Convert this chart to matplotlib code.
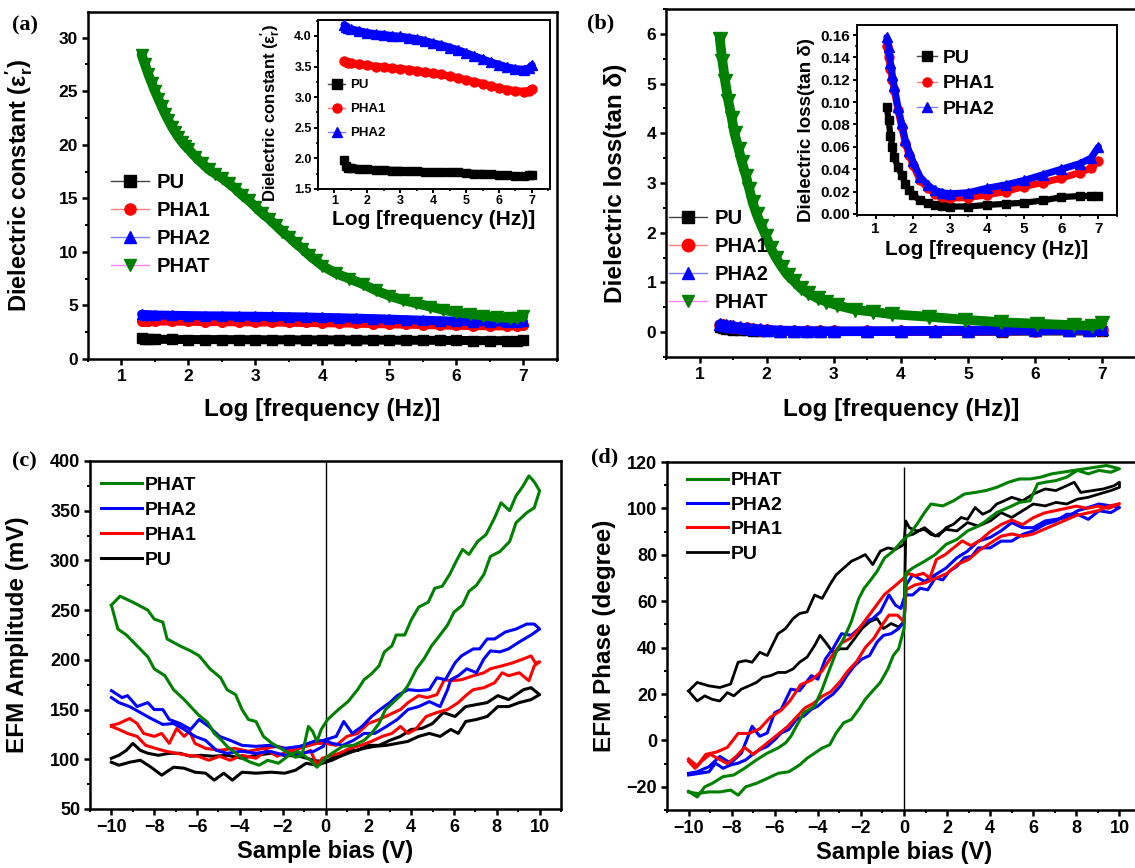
import numpy as np
import matplotlib
matplotlib.use("Agg")
import matplotlib.pyplot as plt
from matplotlib.lines import Line2D
from matplotlib.ticker import MultipleLocator, FormatStrFormatter

plt.rcParams['font.family'] = ['Liberation Sans', 'DejaVu Sans']
plt.rcParams['font.weight'] = 'bold'
plt.rcParams['axes.labelweight'] = 'bold'
plt.rcParams['mathtext.default'] = 'regular'

# ---- (a) dielectric constant ----
logf_a = [1.3, 1.35, 1.4, 1.5, 1.75, 2.0, 2.25, 2.5, 2.75, 3.0, 3.25, 3.5, 3.75, 4.0,
          4.25, 4.5, 4.75, 5.0, 5.25, 5.5, 5.75, 6.0, 6.25, 6.5, 6.75, 6.9, 7.0]
eps_pu = [1.97, 1.87, 1.85, 1.84, 1.83, 1.82, 1.81, 1.81, 1.80, 1.80, 1.79, 1.79, 1.78, 1.78,
          1.78, 1.77, 1.77, 1.76, 1.75, 1.75, 1.74, 1.73, 1.72, 1.71, 1.71, 1.72, 1.73]
eps_pha1 = [3.59, 3.57, 3.56, 3.55, 3.54, 3.52, 3.50, 3.49, 3.47, 3.46, 3.45, 3.43, 3.41, 3.39,
            3.37, 3.34, 3.31, 3.28, 3.25, 3.22, 3.18, 3.15, 3.12, 3.10, 3.09, 3.10, 3.13]
eps_pha2 = [4.18, 4.15, 4.13, 4.11, 4.08, 4.05, 4.03, 4.02, 4.00, 3.99, 3.97, 3.95, 3.92, 3.88,
            3.85, 3.81, 3.77, 3.72, 3.67, 3.62, 3.57, 3.53, 3.49, 3.46, 3.45, 3.47, 3.52]
logf_phat_a = [1.3, 1.35, 1.4, 1.45, 1.5, 1.55, 1.6, 1.65, 1.7, 1.75, 1.8, 1.85, 1.9, 1.95, 2.0,
               2.1, 2.2, 2.3, 2.4, 2.5, 2.6, 2.7, 2.8, 2.9, 3.0, 3.1, 3.2, 3.3, 3.4, 3.5, 3.6,
               3.7, 3.8, 3.9, 4.0, 4.2, 4.4, 4.6, 4.8, 5.0, 5.2, 5.4, 5.6, 5.8, 6.0, 6.2, 6.4,
               6.6, 6.8, 6.9, 7.0]
eps_phat = [28.4, 27.5, 26.6, 25.8, 25.0, 24.3, 23.6, 22.9, 22.3, 21.7, 21.2, 20.7, 20.3, 19.9,
            19.6, 18.9, 18.3, 17.7, 17.3, 16.9, 16.4, 15.9, 15.3, 14.8, 14.2, 13.6, 13.1, 12.5,
            11.9, 11.4, 10.8, 10.3, 9.7, 9.2, 8.7, 8.0, 7.5, 7.0, 6.4, 5.9, 5.5, 5.2, 4.9, 4.6,
            4.35, 4.2, 4.05, 3.9, 3.8, 3.85, 4.0]

# ---- (b) dielectric loss ----
logf_b = [1.3, 1.35, 1.4, 1.45, 1.5, 1.6, 1.7, 1.8, 1.9, 2.0, 2.2, 2.4, 2.6, 2.8, 3.0, 3.5,
          4.0, 4.5, 5.0, 5.5, 6.0, 6.5, 6.8, 7.0]
tan_pu = [0.096, 0.084, 0.070, 0.060, 0.051, 0.042, 0.035, 0.027, 0.021, 0.017, 0.012, 0.010,
          0.008, 0.007, 0.0066, 0.0066, 0.008, 0.009, 0.010, 0.012, 0.015, 0.016, 0.016, 0.016]
tan_pha1 = [0.150, 0.140, 0.130, 0.120, 0.111, 0.093, 0.078, 0.063, 0.053, 0.044, 0.030, 0.023,
            0.018, 0.0155, 0.014, 0.0146, 0.017, 0.020, 0.0245, 0.028, 0.032, 0.037, 0.041, 0.047]
tan_pha2 = [0.158, 0.149, 0.135, 0.124, 0.114, 0.096, 0.081, 0.066, 0.056, 0.047, 0.033, 0.026,
            0.021, 0.019, 0.018, 0.019, 0.023, 0.026, 0.030, 0.035, 0.040, 0.045, 0.050, 0.060]
logf_phat_b = [1.30, 1.34, 1.38, 1.43, 1.48, 1.52, 1.58, 1.63, 1.69, 1.74, 1.79, 1.85, 1.92,
               1.99, 2.06, 2.14, 2.22, 2.31, 2.41, 2.51, 2.62, 2.76, 2.89, 3.05, 3.32, 3.59,
               3.86, 4.41, 4.95, 5.49, 6.03, 6.57, 6.84, 7.0]
tan_phat = [5.90, 5.46, 5.05, 4.64, 4.30, 4.00, 3.69, 3.42, 3.15, 2.88, 2.61, 2.37, 2.14, 1.93,
            1.69, 1.49, 1.32, 1.15, 1.02, 0.88, 0.78, 0.68, 0.61, 0.54, 0.45, 0.41, 0.36, 0.31,
            0.25, 0.20, 0.17, 0.14, 0.13, 0.18]

# ---- (c) EFM amplitude loops (V, mV) ----
bias_c_phat = [-10, -9.6, -9.0, -8.3, -8.0, -7.6, -7.4, -6.8, -6.3, -5.9, -5.4, -4.9, -4.6, -4.2,
               -3.9, -3.6, -3.25, -2.9, -2.5, -2.1, -1.7, -1.4, -1.1, -0.8, -0.6, -0.4, -0.2, 0.1,
               0.6, 1.05, 1.5, 1.8, 2.15, 2.5, 2.75, 3.1, 3.3, 3.7, 4.0, 4.35, 4.8, 5.1, 5.45, 5.8,
               6.1, 6.4, 6.7, 7.1, 7.5, 7.9, 8.2, 8.6, 8.9, 9.2, 9.5, 9.75, 10,
               9.75, 9.4, 9.15, 8.9, 8.6, 8.15, 7.7, 7.4, 7.05, 6.7, 6.4, 6.0, 5.7, 5.35, 4.95,
               4.6, 4.25, 3.85, 3.5, 3.15, 2.8, 2.5, 2.15, 1.8, 1.3, 0.8, 0.3, 0.0,
               -0.4, -0.7, -1.3, -1.7, -2.2, -2.7, -3.1, -3.5, -3.9, -4.3, -4.6, -4.85, -5.2,
               -5.5, -5.95, -6.3, -6.6, -7.1, -7.5, -8.0, -8.3, -8.8, -9.3, -9.7, -10]
amp_phat = [255, 264, 258, 250, 241, 238, 221, 214, 209, 204, 191, 182, 170, 165,
            150, 140, 138, 123, 116, 111, 106, 102, 104, 133, 128, 118, 130, 140,
            150, 158, 170, 180, 186, 194, 208, 214, 225, 225, 240, 253, 258, 272, 274, 286,
            299, 311, 306, 319, 326, 343, 358, 350, 365, 374, 385, 379, 370,
            353, 348, 343, 338, 319, 309, 304, 286, 275, 269, 255, 248, 235, 225, 214,
            201, 191, 174, 164, 157, 150, 136, 126, 119, 114, 113, 106, 101,
            92, 99, 108, 104, 96, 99, 94, 97, 101, 108, 113, 119, 126,
            137, 145, 153, 160, 170, 184, 191, 203, 214, 225, 231, 255]
bias_c_pha2 = [-10, -9.5, -9.25, -8.8, -8.3, -8.0, -7.6, -7.3, -6.8, -6.3, -5.9, -5.45, -4.95,
               -4.45, -3.9, -3.25, -2.6, -1.9, -1.2, -0.55, -0.1,
               0.5, 0.85, 1.25, 1.7, 2.15, 2.55, 3.0, 3.35, 3.85, 4.35, 4.85, 5.2, 5.6, 6.05,
               6.35, 6.9, 7.2, 7.55, 7.9, 8.4, 8.9, 9.4, 9.75, 10,
               9.6, 9.05, 8.55, 8.15, 7.7, 7.4, 7.05, 6.6, 6.2, 5.85, 5.7, 5.35, 4.85, 4.35,
               3.85, 3.35, 2.85, 2.3, 1.8, 1.3, 0.8, 0.3, 0.0,
               -0.1, -0.55, -1.2, -1.9, -2.6, -3.25, -3.9, -4.6, -5.1, -5.6, -6.1, -6.6, -7.1,
               -7.6, -8.15, -8.65, -9.15, -9.65, -10]
amp_pha2 = [169, 162, 164, 153, 157, 150, 150, 140, 136, 130, 140, 133, 123,
            119, 114, 113, 114, 111, 113, 118, 119,
            123, 138, 126, 133, 143, 150, 157, 164, 170, 169, 170, 182, 180, 197,
            204, 211, 211, 221, 221, 228, 231, 236, 236, 231,
            225, 218, 211, 208, 209, 201, 187, 191, 184, 180, 170, 153, 158, 153,
            150, 140, 133, 126, 126, 119, 114, 116, 119,
            113, 108, 106, 104, 108, 106, 108, 106, 109, 119, 123, 130, 136,
            135, 141, 147, 153, 157, 162]
bias_c_pha1 = [-10, -9.65, -9.15, -8.8, -8.5, -8.0, -7.65, -7.3, -6.95, -6.6, -6.35, -6.1, -5.6,
               -4.95, -4.25, -3.6, -2.9, -2.25, -1.55, -0.9, -0.4,
               0.0, 0.5, 1.0, 1.5, 2.0, 2.5, 3.0, 3.5, 3.85, 4.35, 4.75, 5.2, 5.55, 5.85, 6.35,
               6.9, 7.4, 7.7, 8.25, 8.75, 9.25, 9.6, 9.8, 10,
               9.75, 9.5, 9.05, 8.55, 8.25, 7.9, 7.4, 6.9, 6.55, 6.2, 5.7, 5.2, 4.7, 4.2, 3.85,
               3.5, 3.1, 2.65, 2.15, 1.65, 1.15, 0.65, 0.15,
               -0.15, -0.4, -0.7, -1.2, -1.7, -2.25, -2.75, -3.25, -3.9, -4.45, -4.95, -5.45,
               -5.95, -6.45, -6.95, -7.45, -7.95, -8.4, -8.8, -9.25, -9.65, -10]
amp_pha1 = [134, 136, 141, 136, 126, 123, 126, 116, 131, 123, 128, 116, 111,
            109, 111, 108, 111, 113, 109, 113, 116,
            116, 114, 123, 126, 136, 140, 145, 150, 157, 164, 162, 165, 180, 179, 180,
            184, 187, 191, 194, 197, 201, 204, 197, 198,
            194, 179, 187, 184, 187, 177, 172, 170, 164, 157, 150, 147, 143, 130, 126,
            133, 126, 123, 118, 114, 111, 106, 103,
            101, 94, 109, 104, 109, 103, 109, 101, 104, 99, 103, 99,
            103, 104, 106, 108, 111, 114, 123, 126, 130, 133]
bias_c_pu = [-10, -9.65, -9.3, -9.0, -8.65, -8.3, -7.8, -7.3, -6.8, -6.3, -5.8, -5.25, -4.6,
             -3.9, -3.25, -2.55, -1.9, -1.2, -0.55, 0.0,
             0.5, 1.0, 1.5, 2.0, 2.5, 3.0, 3.5, 4.0, 4.5, 5.0, 5.5, 6.05, 6.55, 7.05, 7.55,
             8.05, 8.55, 8.9, 9.25, 9.6, 10,
             9.6, 9.05, 8.55, 8.05, 7.55, 7.05, 6.55, 6.2, 5.85, 5.35, 4.85, 4.35, 3.85, 3.35,
             2.85, 2.3, 1.8, 1.3, 0.8, 0.3, 0.0,
             -0.4, -0.9, -1.4, -1.9, -2.55, -3.25, -3.9, -4.35, -4.75, -5.2, -5.6, -6.1, -6.6,
             -7.1, -7.65, -8.15, -8.65, -9.15, -9.65, -10]
amp_pu = [101, 104, 109, 116, 109, 106, 104, 106, 106, 103, 104, 103, 104,
          101, 104, 106, 104, 103, 99, 97,
          104, 108, 109, 114, 114, 119, 123, 130, 131, 136, 147, 143, 153, 155, 157,
          164, 160, 165, 170, 172, 165,
          160, 157, 153, 153, 143, 140, 138, 126, 130, 123, 126, 123, 118, 116,
          114, 113, 111, 108, 104, 99, 97,
          94, 96, 89, 86, 87, 86, 87, 79, 86, 79, 86, 87, 91,
          92, 84, 92, 99, 97, 94, 97]

# ---- (d) EFM phase loops (V, degree) ----
bias_d_phat = [-10, -9.6, -9.25, -8.9, -8.4, -7.9, -7.4, -6.85, -6.35, -5.85, -5.5, -5.25, -5.0,
               -4.65, -4.15, -3.8, -3.45, -3.15, -2.8, -2.45, -2.1, -1.85, -1.6, -1.25, -0.9,
               -0.5, -0.1, 0.25, 0.6, 0.95, 1.25, 1.8, 2.3, 2.8, 3.3, 3.8, 4.3, 4.85, 5.35,
               5.85, 6.35, 6.85, 7.35, 7.9, 8.4, 8.9, 9.4, 10,
               9.6, 9.05, 8.55, 8.05, 7.55, 7.05, 6.55, 6.2, 5.85, 5.35, 4.85, 4.3, 3.8, 3.45,
               2.95, 2.45, 1.95, 1.45, 0.95, 0.4, 0.08, 0.0,
               -0.25, -0.5, -0.75, -1.1, -1.45, -1.8, -2.1, -2.45, -2.8, -3.15, -3.45, -3.8,
               -4.15, -4.5, -4.85, -5.35, -5.85, -6.35, -6.85, -7.35, -7.7, -8.05, -8.55,
               -9.05, -9.6, -10]
ph_phat = [-22, -24.4, -20, -18.5, -15.6, -14.9, -12, -8.4, -5.5, -3.3, -1.1, 1.8, 6.1,
           11.9, 14.8, 22.1, 30.8, 38, 43.8, 51.1, 61.2, 65.6, 68.5, 72.9, 78.7,
           81.6, 85.9, 88.8, 93.2, 98.2, 101.9, 101.1, 103.3, 106.2, 106.9, 107.7, 109.1, 111.3,
           112.7, 112.7, 113.5, 114.9, 115.6, 116.4, 117.1, 117.8, 118.5, 117.1,
           115.6, 116.4, 114.9, 116.4, 113.5, 112, 111.3, 110.6, 103.3, 102.6, 100.4, 98.2,
           94.6, 92.4, 90.3, 86.6, 84.5, 80.1, 77.2, 74.3, 72.1, 48.2,
           39.5, 36.6, 30.8, 25, 21.4, 17.7, 13.4, 9, 7.6, 3.2, -1.9, -3.3,
           -5.5, -7.7, -10.6, -13.5, -14.2, -16.4, -18.5, -20, -23.6, -21.4, -22.2,
           -22.2, -22.9, -22.2]
bias_d_pha2 = [-10, -9.6, -9.05, -8.55, -8.05, -7.55, -7.05, -6.7, -6.35, -6.0, -5.7, -5.25,
               -4.85, -4.3, -4.0, -3.65, -3.3, -2.9, -2.45, -2.1, -1.8, -1.45, -1.1, -0.7,
               -0.4, -0.15, 0.0, 0.1, 0.4, 0.75, 1.1, 1.45, 1.8, 2.1, 2.45, 2.8, 3.15, 3.45,
               4.0, 4.5, 5.0, 5.5, 6.0, 6.55, 7.05, 7.55, 8.05, 8.55, 9.05, 9.6, 10,
               9.6, 9.05, 8.55, 8.05, 7.55, 7.05, 6.55, 6.0, 5.5, 5.0, 4.5, 4.0, 3.45, 2.95,
               2.45, 1.95, 1.45, 0.95, 0.4, 0.1, 0.0,
               -0.25, -0.6, -0.95, -1.25, -1.6, -1.95, -2.3, -2.65, -2.95, -3.3, -3.65, -4.0,
               -4.3, -4.65, -5.0, -5.35, -5.7, -6.0, -6.35, -6.7, -7.05, -7.35, -7.7, -8.05,
               -8.4, -8.75, -9.05, -9.5, -10]
ph_pha2 = [-14.2, -13.5, -11.3, -6.9, -9.8, -5.5, 6.1, 1.8, 3.2, 12, 13.4, 22.1,
           21.4, 27.9, 26.4, 35.1, 39.5, 46, 45.3, 48.2, 51.1, 52.5, 55.4, 62.7,
           58.3, 56.9, 61.2, 62.7, 62.7, 65.6, 64.9, 70, 69.2, 72.9, 75, 78.7, 79.4, 83,
           83, 85.9, 85.9, 88.8, 90.3, 93.2, 94.6, 97.5, 97.5, 95.3, 99, 98.2, 100.4,
           101.1, 101.9, 100.4, 99, 96.1, 95.3, 94.6, 91.7, 91.7, 93.9, 90.3, 87.5, 85.9, 81.6,
           78.7, 74.3, 71.4, 68.5, 71.4, 67.1, 51.1,
           48.2, 46, 45.3, 42.4, 36.6, 35.1, 32.2, 27.9, 23.5, 19.9, 17.7, 14.8,
           13.4, 10.5, 9, 4.7, 3.2, 0.3, -2.6, -4, -6.2, -8.4, -9.8, -10.6,
           -12, -9.8, -13.5, -14.2, -14.9]
bias_d_pha1 = [-10, -9.6, -9.2, -8.7, -8.2, -7.7, -7.2, -6.7, -6.2, -5.7, -5.3, -4.8, -4.3,
               -3.8, -3.3, -2.9, -2.5, -2.1, -1.7, -1.3, -0.9, -0.5, 0.0, 0.2, 0.5, 0.9, 1.2,
               1.5, 1.9, 2.3, 2.7, 3.1, 3.5, 4.0, 4.5, 5.0, 5.5, 6.0, 6.5, 7.0, 7.5, 8.0, 8.5,
               9.0, 9.5, 10,
               9.5, 9.0, 8.5, 8.0, 7.5, 7.0, 6.5, 6.0, 5.5, 5.0, 4.5, 4.0, 3.5, 3.0, 2.5, 2.0,
               1.5, 1.0, 0.5, 0.1, 0.0,
               -0.3, -0.7, -1.0, -1.4, -1.8, -2.2, -2.6, -3.0, -3.4, -3.8, -4.2, -4.6, -5.0,
               -5.4, -5.8, -6.2, -6.6, -7.0, -7.4, -7.8, -8.2, -8.6, -9.0, -9.4, -9.7, -10]
ph_pha1 = [-8, -11, -6, -5, -3, 3, 3, 5, 10, 13, 17, 24, 26,
           30, 37, 42, 44, 48, 53, 58, 63, 66, 70, 72, 71, 72, 70,
           78, 80, 83, 86, 84, 86, 90, 93, 95, 93, 96, 98, 99, 100, 101, 100,
           101, 100, 102,
           101, 99, 98, 97, 95, 93, 91, 89, 88, 89, 88, 85, 82, 78, 76, 72,
           70, 68, 67, 65, 51,
           54, 54, 50, 44, 40, 34, 30, 25, 21, 19, 16, 14, 10,
           6, 3, 0, -3, -6, -3, -7, -10, -8, -6, -9, -12, -9]
bias_d_pu = [-10, -9.6, -9.05, -8.55, -8.05, -7.7, -7.35, -7.05, -6.7, -6.35, -5.85, -5.5,
             -5.15, -4.85, -4.5, -4.15, -3.8, -3.45, -3.15, -2.8, -2.45, -2.1, -1.8, -1.45,
             -1.1, -0.75, -0.4, 0.0, 0.08, 0.25, 0.6, 0.95, 1.25, 1.6, 1.95, 2.3, 2.65, 2.95,
             3.3, 3.65, 4.0, 4.3, 4.65, 5.0, 5.5, 6.0, 6.55, 7.05, 7.55, 7.9, 8.2, 8.75,
             9.25, 9.75, 10,
             10, 9.6, 9.05, 8.55, 8.05, 7.55, 7.05, 6.55, 6.0, 5.5, 5.0, 4.5, 4.0, 3.45,
             2.95, 2.45, 1.95, 1.45, 0.95, 0.4, 0.08, 0.0,
             -0.25, -0.6, -0.95, -1.25, -1.6, -1.95, -2.3, -2.65, -2.95, -3.3, -3.65, -3.9,
             -4.15, -4.5, -4.85, -5.15, -5.5, -5.85, -6.2, -6.55, -6.85, -7.2, -7.55, -7.9,
             -8.2, -8.55, -8.9, -9.25, -9.6, -10]
ph_pu = [21.3, 25, 23.5, 22.8, 24.3, 33.7, 34.4, 33.7, 38, 36.6, 46, 48.2,
         52.5, 54.7, 55.4, 62.7, 61.2, 67, 71.4, 74.3, 77.2, 78.7, 80.1, 75.8,
         81.6, 83, 82.3, 84.5, 94.6, 91.7, 90.3, 91, 88.8, 88.1, 91.7, 93.2, 96.1, 95.3,
         100.4, 97.5, 99, 101.9, 103.3, 104.8, 103.3, 106.2, 108.4, 107.7, 109.8, 111.3,
         106.9, 107.7, 108.4, 109.8, 111.3,
         109.1, 107.7, 106.2, 104.8, 104, 101.9, 102.6, 101.1, 101.9, 99, 96.1, 98.2, 94.6,
         92.4, 93.9, 90.3, 91, 88.1, 91.7, 88.8, 88.1, 51.1,
         48.9, 50.4, 48.2, 52.5, 51.1, 48.2, 43.8, 39.5, 39.5, 38, 42.4, 45.3,
         40.9, 35.9, 33.7, 30.8, 29.3, 29.3, 27.9, 27.2, 25, 23.5, 22.1, 19.2,
         20.6, 17, 17.7, 19.2, 17, 21.3]

GREEN = '#008000'

fig = plt.figure(figsize=(11.35, 8.68), dpi=100)
fig.patch.set_facecolor('white')


def style(ax, xmaj, xmin, ymaj, ymin, tsize, lw=1.8, tl=4, pad=3):
    for s in ax.spines.values():
        s.set_linewidth(lw)
    ax.xaxis.set_major_locator(MultipleLocator(xmaj))
    ax.xaxis.set_minor_locator(MultipleLocator(xmin))
    ax.yaxis.set_major_locator(MultipleLocator(ymaj))
    ax.yaxis.set_minor_locator(MultipleLocator(ymin))
    ax.tick_params(which='major', direction='out', length=tl, width=lw,
                   labelsize=tsize, pad=pad, top=False, right=False)
    ax.tick_params(which='minor', direction='out', length=tl * 0.6, width=lw * 0.8,
                   top=False, right=False)


def band(ax, x, y, color, marker, ms, bw, z):
    ax.plot(x, y, color=color, lw=bw, solid_joinstyle='round',
            solid_capstyle='round', zorder=z)
    ax.plot(x, y, ls='none', marker=marker, ms=ms, color=color, zorder=z + 0.1)


def handles(specs, ms):
    return [Line2D([], [], color=lc, lw=1.0, marker=m, ms=ms, mfc=mc, mec=mc)
            for lc, m, mc in specs]


def legend(ax, h, labels, fx, fy, size, hl, tp, ls):
    ax.legend(h, labels, loc='upper left', bbox_to_anchor=(fx, fy),
              bbox_transform=fig.transFigure, frameon=False, borderpad=0,
              borderaxespad=0, handlelength=hl, handletextpad=tp, labelspacing=ls,
              prop={'size': size, 'weight': 'bold'})


spec4 = [('#444444', 's', 'black'), ('#ff8080', 'o', 'red'),
         ('#8080ff', '^', 'blue'), ('#ff80ff', 'v', GREEN)]

# ---------------- (a) ----------------
axa = fig.add_axes([0.0775, 0.5864, 0.4132, 0.3998])
band(axa, logf_a, eps_pu, 'black', 's', 6.5, 6.5, 2)
band(axa, logf_a, eps_pha1, 'red', 'o', 7, 6.5, 3)
band(axa, logf_a, eps_pha2, 'blue', '^', 7.5, 6.5, 4)
band(axa, logf_phat_a, eps_phat, GREEN, 'v', 9, 7, 5)
axa.set_xlim(0.5, 7.5)
axa.set_ylim(0, 32.4)
style(axa, 1, 0.5, 5, 2.5, 12.5)
axa.set_xlabel('Log [frequency (Hz)]', fontsize=17.5)
axa.set_ylabel("Dielectric constant (ε$^{\\prime}_{r}$)", fontsize=17)
axa.xaxis.set_label_coords(0.5, -0.112)
axa.yaxis.set_label_coords(-0.113, 0.5)
legend(axa, handles(spec4, 8), ['PU', 'PHA1', 'PHA2', 'PHAT'],
       0.0978, 0.8007, 14.5, 1.9, 0.35, 0.45)

# inset (a)
ia = fig.add_axes([0.2802, 0.7823, 0.2044, 0.1947])
band(ia, logf_a, eps_pu, 'black', 's', 6, 5.5, 2)
band(ia, logf_a, eps_pha1, 'red', 'o', 6.5, 5.5, 3)
band(ia, logf_a, eps_pha2, 'blue', '^', 7, 5.5, 4)
ia.set_xlim(0.5, 7.55)
ia.set_ylim(1.5, 4.26)
style(ia, 1, 0.5, 0.5, 0.25, 9, lw=1.4, tl=3, pad=1.5)
ia.set_xlabel('Log [frequency (Hz)]', fontsize=15)
ia.set_ylabel("Dielectric constant (ε$^{\\prime}_{r}$)", fontsize=12)
ia.xaxis.set_label_coords(0.5, -0.125)
ia.yaxis.set_label_coords(-0.151, 0.45)
legend(ia, handles(spec4[:3], 6.5), ['PU', 'PHA1', 'PHA2'],
       0.289, 0.909, 9.5, 1.3, 0.4, 0.9)

# ---------------- (b) ----------------
axb = fig.add_axes([0.5868, 0.5887, 0.4141, 0.4009])
band(axb, logf_b, tan_pu, 'black', 's', 7, 6, 2)
band(axb, logf_b, tan_pha1, 'red', 'o', 8, 6.5, 3)
band(axb, logf_b, tan_pha2, 'blue', '^', 9, 7, 4)
band(axb, logf_phat_b, tan_phat, GREEN, 'v', 10, 7, 5)
axb.set_xlim(0.5, 7.5)
axb.set_ylim(-0.5, 6.5)
style(axb, 1, 0.5, 1, 0.5, 12.5)
axb.set_xlabel('Log [frequency (Hz)]', fontsize=17.5)
axb.set_ylabel('Dielectric loss(tan δ)', fontsize=17.5)
axb.xaxis.set_label_coords(0.5, -0.118)
axb.yaxis.set_label_coords(-0.083, 0.5)
legend(axb, handles(spec4, 9), ['PU', 'PHA1', 'PHA2', 'PHAT'],
       0.5894, 0.7592, 14.5, 1.9, 0.35, 0.45)

# inset (b)
ib = fig.add_axes([0.7551, 0.7523, 0.2291, 0.2189])
band(ib, logf_b, tan_pu, 'black', 's', 6, 4.5, 2)
band(ib, logf_b, tan_pha1, 'red', 'o', 6.5, 5, 3)
band(ib, logf_b, tan_pha2, 'blue', '^', 7, 5, 4)
ib.set_xlim(0.5, 7.5)
ib.set_ylim(-0.001, 0.169)
style(ib, 1, 0.5, 0.02, 0.01, 11, lw=1.4, tl=3, pad=2)
ib.yaxis.set_major_formatter(FormatStrFormatter('%.2f'))
ib.set_xlabel('Log [frequency (Hz)]', fontsize=15)
ib.set_ylabel('Dielectric loss(tan δ)', fontsize=13.5)
ib.xaxis.set_label_coords(0.5, -0.13)
ib.yaxis.set_label_coords(-0.162, 0.447)
legend(ib, handles(spec4[:3], 6.5), ['PU', 'PHA1', 'PHA2'],
       0.808, 0.943, 14, 1.0, 0.3, 0.4)

# ---------------- (c) ----------------
axc = fig.add_axes([0.0793, 0.068, 0.415, 0.4009])
axc.axvline(0, color='black', lw=1.0, zorder=1)
axc.plot(bias_c_pu, amp_pu, color='black', lw=2.2, label='PU', zorder=2)
axc.plot(bias_c_pha1, amp_pha1, color='red', lw=2.2, label='PHA1', zorder=3)
axc.plot(bias_c_pha2, amp_pha2, color='blue', lw=2.2, label='PHA2', zorder=4)
axc.plot(bias_c_phat, amp_phat, color=GREEN, lw=2.2, label='PHAT', zorder=5)
axc.set_xlim(-11, 11)
axc.set_ylim(50, 400)
style(axc, 2, 1, 50, 25, 13)
axc.set_xlabel('Sample bias (V)', fontsize=17)
axc.set_ylabel('EFM Amplitude (mV)', fontsize=17.5)
axc.xaxis.set_label_coords(0.5, -0.089)
axc.yaxis.set_label_coords(-0.13, 0.5)
hc, lc = axc.get_legend_handles_labels()
legend(axc, hc[::-1], lc[::-1], 0.089, 0.4515, 14, 2.1, 0.15, 0.38)

# ---------------- (d) ----------------
axd = fig.add_axes([0.5877, 0.0668, 0.4176, 0.4009])
axd.vlines(0, -30, 118, color='black', lw=1.0, zorder=1)
axd.plot(bias_d_pu, ph_pu, color='black', lw=2.0, label='PU', zorder=2)
axd.plot(bias_d_pha1, ph_pha1, color='red', lw=2.2, label='PHA1', zorder=4)
axd.plot(bias_d_pha2, ph_pha2, color='blue', lw=2.2, label='PHA2', zorder=3)
axd.plot(bias_d_phat, ph_phat, color=GREEN, lw=2.2, label='PHAT', zorder=5)
axd.set_xlim(-11, 11)
axd.set_ylim(-30, 120)
style(axd, 2, 1, 20, 10, 13)
axd.set_xlabel('Sample bias (V)', fontsize=17)
axd.set_ylabel('EFM Phase (degree)', fontsize=17.5)
axd.xaxis.set_label_coords(0.5, -0.089)
axd.yaxis.set_label_coords(-0.108, 0.5)
hd, ld = axd.get_legend_handles_labels()
legend(axd, [hd[3], hd[2], hd[1], hd[0]], ['PHAT', 'PHA2', 'PHA1', 'PU'],
       0.6053, 0.4565, 14, 2.1, 0.15, 0.35)

# panel letters
for lab, px, py in [('(a)', 25, 25), ('(b)', 601, 23), ('(c)', 24, 461), ('(d)', 605, 457)]:
    fig.text(px / 1135, 1 - py / 868, lab, ha='center', va='center',
             fontsize=16, fontweight='bold', family='Liberation Serif')

fig.savefig('out.png', dpi=100, facecolor='white')
